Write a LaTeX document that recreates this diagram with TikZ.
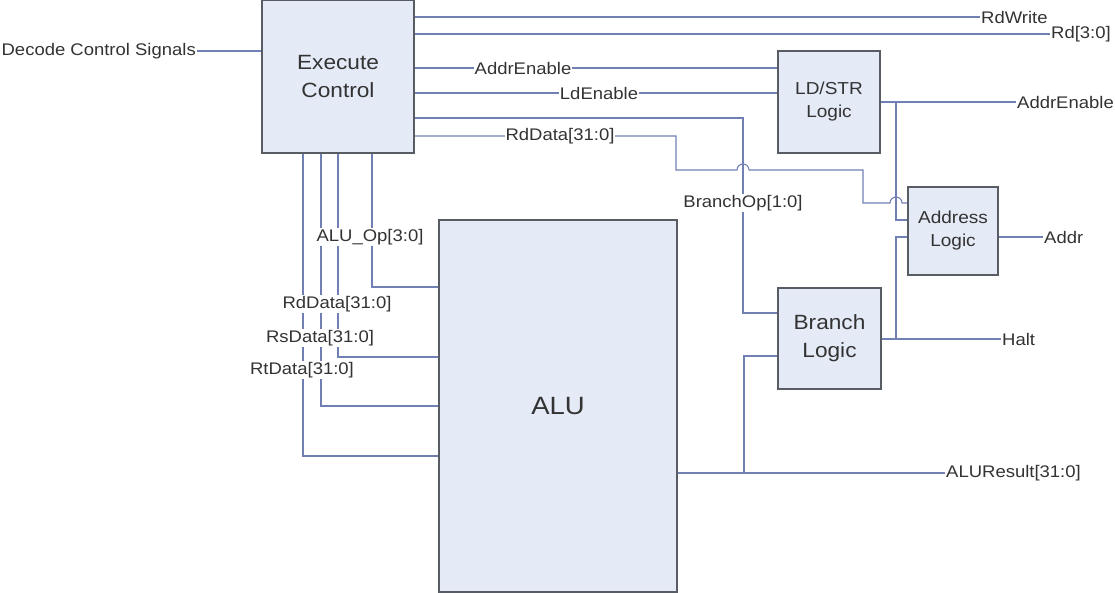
\documentclass[tikz,border=0pt]{standalone}
\usepackage{fontspec}
\setmainfont{Liberation Sans}[FakeStretch=1.1]
\definecolor{boxfill}{HTML}{E4EAF6}
\definecolor{boxline}{HTML}{585C63}
\definecolor{wirec}{HTML}{7080B4}
\definecolor{txt}{HTML}{333333}
\pgfdeclarelayer{bg}
\pgfsetlayers{bg,main}
\tikzset{
  blk/.style={draw=boxline, line width=1.8pt, fill=boxfill, text=txt, align=center,
    font=\fontsize{20.6}{28}\selectfont, inner sep=0pt},
  smallblk/.style={blk, font=\fontsize{17.3}{23}\selectfont},
  lbl/.style={text=txt, font=\fontsize{16.8}{20}\selectfont, inner sep=1pt, fill=white},
  wire/.style={draw=wirec, line width=1.1pt},
}
\begin{document}
\begin{tikzpicture}[x=1pt,y=-1pt]
\useasboundingbox (0,0) rectangle (1115,593);
% blocks
\node[blk, minimum width=152pt, minimum height=153pt] (ex) at (338,76.5) {Execute\\Control};
\node[smallblk, minimum width=102pt, minimum height=102pt] (ld) at (829,102) {LD/STR\\Logic};
\node[smallblk, minimum width=90pt, minimum height=88pt] (ad) at (953,231) {Address\\Logic};
\node[blk, minimum width=103pt, minimum height=101pt] (br) at (829.5,338.5) {Branch\\Logic};
\node[blk, minimum width=238pt, minimum height=372pt, font=\fontsize{25}{30}\selectfont] (alu) at (558,406) {ALU};
% labels
\node[lbl, anchor=east] (dcs) at (197,51) {Decode Control Signals};
\node[lbl, anchor=west] (rdw) at (980,17) {RdWrite};
\node[lbl, anchor=west] (rd) at (1050,34) {Rd[3:0]};
\node[lbl] (ae1) at (523,68) {AddrEnable};
\node[lbl] (le) at (599,93) {LdEnable};
\node[lbl] (rdl) at (560,136) {RdData[31:0]};
\node[lbl] (bo) at (743,203) {BranchOp[1:0]};
\node[lbl, anchor=west] (ae2) at (1016,102) {AddrEnable};
\node[lbl, anchor=west] (adr) at (1043,237) {Addr};
\node[lbl, anchor=west] (halt) at (1001,339) {Halt};
\node[lbl, anchor=west] (res) at (945,473) {ALUResult[31:0]};
\node[lbl] (aop) at (370,237) {ALU\_Op[3:0]};
\node[lbl] (rdd) at (337,304) {RdData[31:0]};
\node[lbl] (rsd) at (320,338) {RsData[31:0]};
\node[lbl] (rtd) at (302,370) {RtData[31:0]};
% corner coordinates
\coordinate (bt) at (743,118);
\coordinate (bb) at (743,313);
\coordinate (r1) at (676,136);
\coordinate (r2) at (676,170);
\coordinate (r3) at (863,170);
\coordinate (r4) at (863,203);
\coordinate (j1) at (896,102);
\coordinate (j2) at (896,220);
\coordinate (k1) at (896,237);
\coordinate (k2) at (896,339);
\coordinate (m1) at (744,473);
\coordinate (m2) at (744,356);
\coordinate (a1) at (372,287);
\coordinate (a2) at (338,357);
\coordinate (a3) at (321,406);
\coordinate (a4) at (303,456);
\begin{pgfonlayer}{bg}
\draw[wire] (dcs.east) -- (dcs.east -| ex.west);
\draw[wire] (ex.east |- rdw.west) -- (rdw.west);
\draw[wire] (ex.east |- rd.west) -- (rd.west);
\draw[wire] (ex.east |- ae1) -- (ae1 -| ld.west);
\draw[wire] (ex.east |- le) -- (le -| ld.west);
\draw[wire] (ex.east |- bt) -- (bt) -- (bb) -- (bb -| br.west);
\draw[wire] (ex.east |- r1) -- (r1) -- (r2) -- (737,170) arc[start angle=180, end angle=0, radius=6pt]
   -- (r3) -- (r4) -- (890,203) arc[start angle=180, end angle=0, radius=6pt] -- (r4 -| ad.west);
\draw[wire] (ld.east |- ae2.west) -- (ae2.west);
\draw[wire] (j1) -- (j2) -- (j2 -| ad.west);
\draw[wire] (ad.east |- adr.west) -- (adr.west);
\draw[wire] (k1 -| ad.west) -- (k1) -- (k2);
\draw[wire] (br.east |- halt.west) -- (halt.west);
\draw[wire] (alu.east |- res.west) -- (res.west);
\draw[wire] (m1) -- (m2) -- (m2 -| br.west);
\draw[wire] (a1 |- ex.south) -- (a1) -- (a1 -| alu.west);
\draw[wire] (a2 |- ex.south) -- (a2) -- (a2 -| alu.west);
\draw[wire] (a3 |- ex.south) -- (a3) -- (a3 -| alu.west);
\draw[wire] (a4 |- ex.south) -- (a4) -- (a4 -| alu.west);
\end{pgfonlayer}
\end{tikzpicture}
\end{document}
